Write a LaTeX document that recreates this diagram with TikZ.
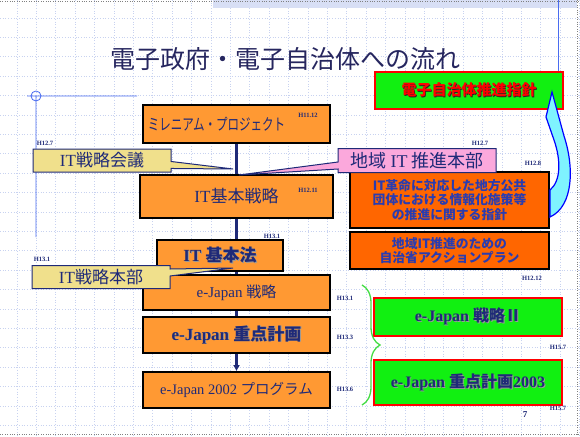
\documentclass[tikz,border=0pt]{standalone}
\usepackage{fontspec}
\setmainfont{Liberation Serif}
\newfontfamily\jp{Noto Sans CJK JP}
\usetikzlibrary{arrows.meta,positioning,shapes.callouts,decorations.pathreplacing,backgrounds}
\definecolor{Ink}{HTML}{1F2A78}
\definecolor{Title}{HTML}{26265F}
\definecolor{Amber}{HTML}{FF9933}
\definecolor{Rust}{HTML}{FF6600}
\definecolor{Lime}{HTML}{11F011}
\definecolor{Khaki}{HTML}{F0E08C}
\definecolor{Rose}{HTML}{FBA8DC}
\definecolor{Grid}{HTML}{C8D2F0}
\definecolor{Frame}{HTML}{4A6CF0}
\definecolor{Sky}{HTML}{7FF3FF}
\definecolor{Plan}{HTML}{2A3CB0}
\definecolor{Brace}{HTML}{44DD44}
\newcommand\shadowed[2]{\makebox[0pt][l]{\kern0.9pt\raisebox{-0.9pt}{\color{#2}#1}}#1}

\begin{document}
\begin{tikzpicture}[x=1pt,y=-1pt,
  stage/.style={draw=black,line width=1.6pt,fill=Amber,minimum width=187pt,minimum height=36pt,text=Ink,inner sep=0pt},
  plan/.style={draw=black,line width=1.6pt,fill=Rust,minimum width=199pt,text=Plan,align=center,inner sep=0pt,font=\jp\bfseries\fontsize{12.8}{14.5}\selectfont},
  target/.style={draw=red,line width=1.8pt,fill=Lime,minimum width=188pt,text=Ink,inner sep=0pt},
  council/.style={rectangle callout,draw=Ink,line width=1pt,fill=Khaki,text=Ink,minimum width=138pt,minimum height=23pt,callout pointer width=7pt,inner sep=0pt,font=\jp\fontsize{17}{17}\selectfont},
  date/.style={font=\bfseries\fontsize{6.5}{7}\selectfont,text=Ink,inner sep=0pt},
  spine/.style={draw=Ink,line width=2.2pt},
  arrow/.style={-{Latex[length=6pt,width=7pt]},spine}
]
\useasboundingbox (0,0) rectangle (580,436);

% title
\node[font=\jp\fontsize{25}{25}\selectfont,text=Title] (title) at (285,59) {電子政府・電子自治体への流れ};

% national flow
\node[stage,minimum height=38pt,font=\jp\fontsize{16}{16}\selectfont] (mill) at (236.5,124) {\scalebox{0.72}[1]{ミレニアム・プロジェクト}\rule{40pt}{0pt}};
\node[stage,minimum width=193pt,minimum height=43pt,font=\jp\fontsize{17}{17}\selectfont] (basic) at (236.5,196.5) {{\rmfamily IT}基本戦略};
\node[stage,minimum width=126pt,minimum height=31pt,font=\bfseries\fontsize{17}{17}\selectfont] (law) at (220,255.5) {\shadowed{IT {\jp 基本法}}{black!40}};
\node[stage,minimum height=35pt,font=\fontsize{15}{15}\selectfont] (ejs) at (236.5,292.5) {e-Japan {\jp 戦略}};
\node[stage,font=\bfseries\fontsize{17}{17}\selectfont] (ejp) at (236.5,335) {\shadowed{e-Japan {\jp 重点計画}}{black!40}};
\node[stage,font=\fontsize{14.5}{15}\selectfont] (ej02) at (236.5,390) {e-Japan 2002 {\jp プログラム}};

% local flow
\node[target,minimum height=37pt,text=red,font=\jp\bfseries\fontsize{15}{15}\selectfont] (policy) at (469,90.5) {\shadowed{電子自治体推進指針}{black!85}};
\node[plan,minimum height=56pt] (guide) at (449.5,200) {IT革命に対応した地方公共\\団体における情報化施策等\\の推進に関する指針};
\node[plan,minimum height=37pt] (action) at (449.5,250.5) {地域IT推進のための\\自治省アクションプラン};
\node[target,minimum height=38pt,font=\bfseries\fontsize{16}{16}\selectfont] (ej2) at (468,317) {\shadowed{e-Japan {\jp 戦略Ⅱ}}{black!40}};
\node[target,minimum height=45pt,font=\bfseries\fontsize{16}{16}\selectfont] (ej03) at (468,382.5) {\shadowed{e-Japan {\jp 重点計画}2003}{black!40}};

% councils
\coordinate (meetTip) at (233,169);
\coordinate (localTip) at (239,175);
\coordinate (hqTip) at (233,268);
\node[council,callout absolute pointer={(meetTip)}] (meeting) at (102,160.5) {{\rmfamily IT}戦略会議};
\node[council,callout absolute pointer={(hqTip)}] (hq) at (101,277) {{\rmfamily IT}戦略本部};
\node[council,fill=Rose,minimum width=158pt,minimum height=24pt,font=\jp\fontsize{18}{18}\selectfont,callout absolute pointer={(localTip)}] (local) at (417,160.5) {地域 {\rmfamily IT} 推進本部};

% dates
\node[date] (dMill) at (308,115) {H11.12};
\node[date] (dBasic) at (308,190) {H12.11};
\node[date] (dMeet) at (45,143) {H12.7};
\node[date] (dLocal) at (480,143) {H12.7};
\node[date] (dGuide) at (533,163) {H12.8};
\node[date] (dAction) at (532,278) {H12.12};
\node[date] (dLaw) at (272,236) {H13.1};
\node[date] (dHq) at (42,259) {H13.1};
\node[date] (dEjs) at (345,298) {H13.1};
\node[date] (dEjp) at (345,337) {H13.3};
\node[date] (dEj02) at (345,389) {H13.6};
\node[date] (dEj2) at (558,347) {H15.7};
\node[date] (dEj03) at (558,408) {H15.7};
\node[font=\bfseries\fontsize{9}{9}\selectfont,text=Ink] (page) at (525,415) {7};

% curved arrow from guide up to policy
\draw[draw=blue,line width=1.2pt,fill=Sky]
  (550,217) .. controls (574,206) and (574,166) .. (564,136)
  -- (552,92) -- (546,117) -- (554,140)
  .. controls (561,160) and (561,181) .. (550,190) -- cycle;

% brace towards the new plans
\draw[Brace,line width=1.3pt,decorate,decoration={brace,amplitude=18pt}] (362,285) -- (362,405);

\begin{scope}[on background layer]
  \fill[white] (0,0) rectangle (580,436);
  \foreach \gx in {0,...,29}
    \draw[Grid,dotted,line width=0.7pt] (17+19.4*\gx,0) -- (17+19.4*\gx,436);
  \foreach \gy in {0,...,21}
    \draw[Grid,dotted,line width=0.7pt] (0,18+19.4*\gy) -- (580,18+19.4*\gy);
  \fill[Grid!70] (213,0) rectangle (577,8);
  \draw[black!50,dotted] (0,1) -- (580,1) (577,0) -- (577,436) (0,434) -- (580,434);
  \draw[Frame,line width=0.8pt] (558,0) -- (558,72);
  \draw[Frame,line width=0.8pt] (27,96) -- (137,96) (36,96) -- (36,237) (36,96) circle[radius=5pt];
  % spine
  \draw[spine] (mill.south) -- (ejp.south);
  \draw[arrow] (ejp.south) -- (ej02.north);
\end{scope}
\end{tikzpicture}
\end{document}
